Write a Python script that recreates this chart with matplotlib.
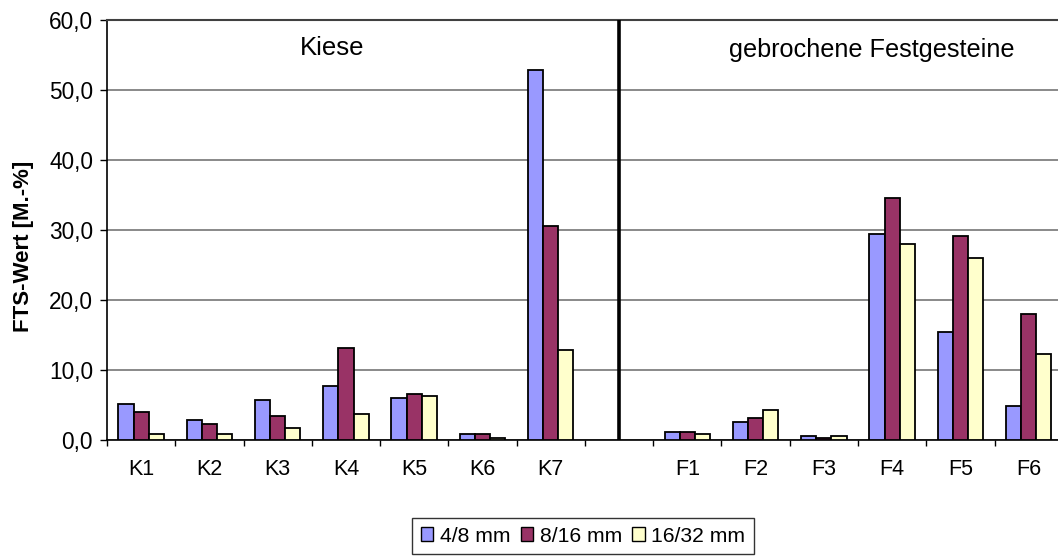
import matplotlib
matplotlib.use("Agg")
import matplotlib.pyplot as plt
import numpy as np
from matplotlib.ticker import FuncFormatter, MultipleLocator, FixedLocator
from matplotlib.patches import Patch

plt.rcParams['font.family'] = ['Liberation Sans', 'DejaVu Sans']

categories = ["K1", "K2", "K3", "K4", "K5", "K6", "K7", "", "F1", "F2", "F3", "F4", "F5", "F6"]
series_names = ["4/8 mm", "8/16 mm", "16/32 mm"]
v_4_8 = [5.1, 2.9, 5.7, 7.7, 6.0, 0.9, 52.9, np.nan, 1.1, 2.6, 0.6, 29.4, 15.4, 4.9]
v_8_16 = [4.0, 2.3, 3.4, 13.1, 6.6, 0.9, 30.6, np.nan, 1.1, 3.1, 0.3, 34.6, 29.1, 18.0]
v_16_32 = [0.9, 0.9, 1.7, 3.7, 6.3, 0.3, 12.9, np.nan, 0.9, 4.3, 0.6, 28.0, 26.0, 12.3]
colors = ["#9999FF", "#993366", "#FFFFCC"]
group_titles = ["Kiese", "gebrochene Festgesteine"]

W, H = 1058, 559
fig = plt.figure(figsize=(W / 100, H / 100), dpi=100)
ax = fig.add_axes([107 / W, 1 - 440 / H, 951 / W, 420 / H])

x = np.arange(len(categories))
bw = 0.222
for i, (vals, c, name) in enumerate(zip([v_4_8, v_8_16, v_16_32], colors, series_names)):
    ax.bar(x + (i - 1) * bw, vals, width=bw, color=c, edgecolor="black", linewidth=1.3,
           label=name, zorder=3)

ax.set_xlim(-0.5, 13.43)
ax.set_ylim(0, 60)
ax.yaxis.set_major_locator(MultipleLocator(10))
ax.yaxis.set_major_formatter(FuncFormatter(lambda v, p: f"{v:.1f}".replace(".", ",")))
ax.set_xticks(x)
ax.set_xticklabels(categories)
ax.xaxis.set_minor_locator(FixedLocator(np.arange(-0.5, 13.6, 1.0)))
ax.tick_params(axis="x", which="major", length=0, pad=14, labelsize=15.5)
ax.tick_params(axis="x", which="minor", length=4, width=1, color="black", direction="out")
ax.tick_params(axis="y", which="major", length=5, width=1, direction="out", pad=5, labelsize=16.3)

ax.grid(axis="y", color="#808080", linewidth=1.3, zorder=0)
ax.set_axisbelow(True)
ax.spines["right"].set_visible(False)
ax.spines["top"].set_color("#404040")
ax.spines["top"].set_linewidth(1.5)
ax.spines["left"].set_color("black")
ax.spines["bottom"].set_color("black")
ax.spines["left"].set_linewidth(1.2)
ax.spines["bottom"].set_linewidth(1.2)

# separator
ax.axvline(7, color="black", linewidth=2.6, zorder=4)

fig.text(332 / W, 1 - 48 / H, group_titles[0], fontsize=18.5, ha="center", va="center")
fig.text(872 / W, 1 - 50 / H, group_titles[1], fontsize=18.2, ha="center", va="center")

fig.text(24 / W, 1 - 246 / H, "FTS-Wert [M.-%]", rotation=90, fontsize=16,
         fontweight="bold", ha="center", va="center")

handles = [Patch(facecolor=c, edgecolor="black", linewidth=1.0) for c in colors]
leg = fig.legend(handles, series_names, loc="center", bbox_to_anchor=(583 / W, 1 - 536 / H),
                 ncol=3, fontsize=15.2, frameon=True, fancybox=False, edgecolor="black",
                 handlelength=0.6, handleheight=0.6, handletextpad=0.3, columnspacing=0.5,
                 borderpad=0.4, borderaxespad=0)
leg.get_frame().set_linewidth(1.0)

fig.savefig("out.png", dpi=100)
